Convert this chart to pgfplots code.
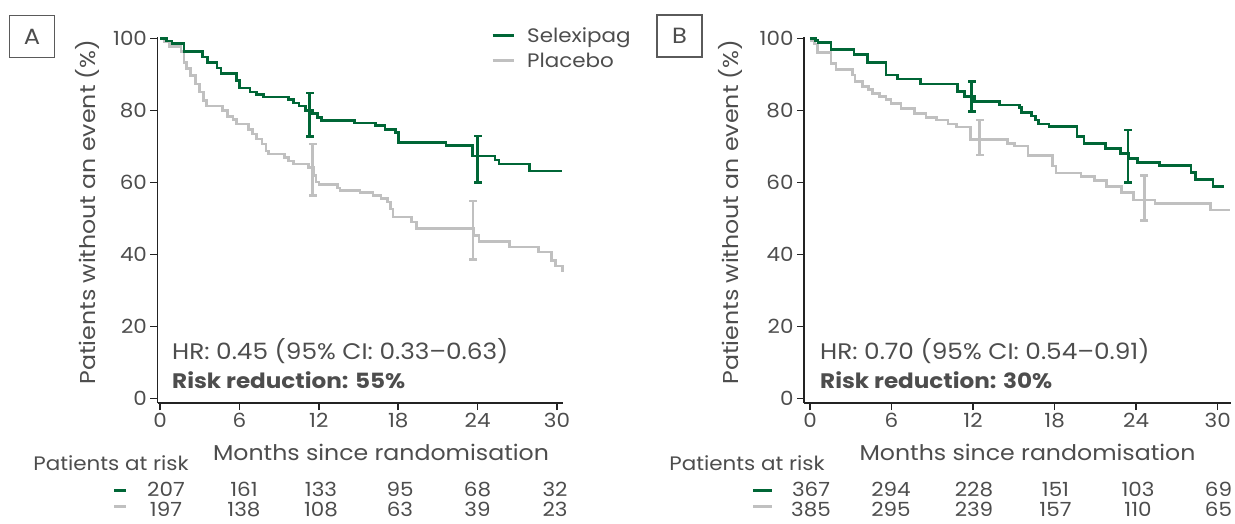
\documentclass[border=0pt]{standalone}
\usepackage{pgfplots}
\pgfplotsset{compat=1.18}
\usepackage{fontspec}
\setmainfont{Poppins}[FakeStretch=1.1, Numbers=Monospaced]
\definecolor{sgreen}{RGB}{0,102,54}
\definecolor{pgrey}{RGB}{192,192,192}
\definecolor{txt}{RGB}{77,77,77}
\definecolor{axc}{RGB}{35,35,35}
\definecolor{boxc}{RGB}{90,90,90}
\newcommand\fs{\fontsize{19.5}{22}\selectfont}
\newcommand\fl{\fontsize{21.5}{24}\selectfont}
\newcommand\fh{\fontsize{22.5}{24}\selectfont}
\newcommand\fb{\fontsize{21}{24}\selectfont}

\pgfplotstableread{
x y
0 100
0.5 99.3
0.9 98.6
1.8 96.3
3.2 94.9
3.6 93.4
4.3 91.8
4.6 90.2
5.8 88.4
6.0 86.2
6.8 85.1
7.3 84.4
7.8 83.7
9.7 83.1
10.1 82.1
10.5 81.2
11.0 80.0
11.5 79.1
11.9 78.1
12.2 77.2
14.7 76.5
16.3 75.8
17.0 74.8
17.8 73.9
18.0 71.1
21.6 70.2
23.6 67.4
25.3 66.3
25.6 65.1
27.9 63.2
30.4 63.2
}\greenA

\pgfplotstableread{
x y
0 100
0.3 99.1
0.7 97.7
1.6 96.3
1.8 93.4
2.0 91.6
2.3 89.7
2.7 87.4
3.0 85.1
3.3 82.8
3.5 81.2
4.7 80.0
5.1 78.4
5.5 77.5
5.8 76.3
6.7 74.8
7.0 73.5
7.3 72.1
7.7 70.7
8.0 68.8
8.2 67.9
9.4 67.0
9.7 66.0
10.1 65.1
11.2 64.2
11.6 62.0
11.8 60.1
12.0 59.4
13.4 58.5
13.6 57.8
15.1 57.2
16.1 56.4
16.7 55.5
17.2 54.6
17.4 52.7
17.6 50.4
19.0 49.0
19.4 47.3
23.7 45.3
24.1 43.6
26.4 42.1
28.6 40.7
29.6 38.4
29.9 36.8
30.4 35.6
30.5 35.6
}\greyA

\pgfplotstableread{
x y
0 100
0.4 99.4
0.6 98.9
1.55 97.0
3.25 95.6
4.25 93.4
5.6 89.9
6.45 88.7
8.15 87.3
10.85 85.3
11.35 83.9
12.1 82.5
13.95 81.5
15.4 80.9
15.55 79.5
16.3 78.5
16.6 77.4
16.8 76.3
17.6 75.5
19.65 72.8
20.15 70.9
21.75 69.5
22.85 68.1
23.45 66.7
24.1 65.6
25.7 64.7
28.05 62.8
28.35 60.9
29.65 58.9
30.5 58.9
}\greenB

\pgfplotstableread{
x y
0 100
0.1 99.4
0.35 98.5
0.55 96.1
1.55 93.1
1.9 91.4
3.15 89.9
3.3 88.1
3.85 86.7
4.3 85.8
4.6 84.8
5.1 83.9
5.6 83.0
5.95 82.0
6.7 80.6
7.7 79.2
8.55 78.1
9.3 77.4
10.15 76.3
10.8 75.4
11.8 71.9
14.55 70.8
15.05 70.1
16.05 67.5
17.85 64.6
18.1 62.6
19.95 61.7
20.95 60.5
21.8 58.9
22.9 57.3
23.8 55.2
25.4 54.1
29.45 52.4
30.9 52.4
}\greyB

\pgfplotsset{
  kmaxis/.style={
    anchor=south west, scale only axis, height=366pt,
    ymin=-1.2, ymax=100.4,
    axis x line=bottom, axis y line=left,
    axis line style={-, line width=1.8pt, draw=axc},
    xtick={0,6,12,18,24,30}, ytick={0,20,40,60,80,100},
    tick align=outside, major tick length=7pt,
    every tick/.style={line width=1.6pt, draw=axc},
    tick label style={font=\fs, text=txt},
    /pgf/number format/assume math mode=true,
    clip=false,
  },
  km/.style={const plot, line width=2.6pt, mark=none},
  ci/.style={#1, line width=2.9pt, mark=-, mark size=4pt,
    mark options={solid, line width=2.4pt, draw=#1}, forget plot},
}

\begin{document}
\begin{tikzpicture}
% ---------- Panel A ----------
\begin{axis}[kmaxis, at={(157.5pt,-403pt)}, width=405.5pt,
  xmin=-0.19, xmax=30.45]
\addplot[km, pgrey] table[x=x,y=y] {\greyA};
\addplot[km, sgreen] table[x=x,y=y] {\greenA};
% 95% CI bars
\addplot[ci=pgrey] coordinates {(11.55,56.4) (11.55,70.7)};
\addplot[ci=pgrey] coordinates {(23.65,38.6) (23.65,54.8)};
\addplot[ci=sgreen] coordinates {(11.3,72.8) (11.3,84.9)};
\addplot[ci=sgreen] coordinates {(24.0,60.0) (24.0,72.9)};
\end{axis}
% ---------- Panel B ----------
\begin{axis}[kmaxis, at={(804pt,-403pt)}, width=427pt,
  xmin=-0.44, xmax=30.98]
\addplot[km, pgrey] table[x=x,y=y] {\greyB};
\addplot[km, sgreen] table[x=x,y=y] {\greenB};
\addplot[ci=pgrey] coordinates {(12.5,67.7) (12.5,77.4)};
\addplot[ci=pgrey] coordinates {(24.6,49.5) (24.6,61.9)};
\addplot[ci=sgreen] coordinates {(11.9,79.7) (11.9,88.0)};
\addplot[ci=sgreen] coordinates {(23.4,60.0) (23.4,74.6)};
\end{axis}

% panel letters
\node[draw=boxc, line width=1.8pt, minimum width=45pt, minimum height=42pt, inner sep=0pt,
  font=\fontsize{22}{22}\selectfont, text=txt] at (32pt,-36.5pt) {A};
\node[draw=boxc, line width=1.8pt, minimum width=45pt, minimum height=42pt, inner sep=0pt,
  font=\fontsize{22}{22}\selectfont, text=txt] at (679.5pt,-36pt) {B};

% y labels
\node[rotate=90, anchor=base, font=\fl, text=txt, inner sep=0pt] at (95pt,-212pt) {Patients without an event (\%)};
\node[rotate=90, anchor=base, font=\fl, text=txt, inner sep=0pt] at (738pt,-212pt) {Patients without an event (\%)};

% legend
\node[anchor=base, inner sep=0pt] at (503pt,-42pt) {\textcolor{sgreen}{\rule[5pt]{21pt}{3pt}}};
\node[anchor=base, inner sep=0pt] at (503pt,-67pt) {\textcolor{pgrey}{\rule[5pt]{21pt}{3pt}}};
\node[anchor=base west, inner sep=0pt, font=\fs, text=txt] at (527pt,-42pt) {Selexipag};
\node[anchor=base west, inner sep=0pt, font=\fs, text=txt] at (527pt,-67pt) {Placebo};

% HR text
\node[anchor=base west, inner sep=0pt, font=\fh, text=txt] at (172pt,-359.5pt) {HR: 0.45 (95\% CI: 0.33–0.63)};
\node[anchor=base west, inner sep=0pt, font=\fb\bfseries, text=txt] at (172pt,-388pt) {Risk reduction: 55\%};
\node[anchor=base west, inner sep=0pt, font=\fh, text=txt] at (820pt,-359.5pt) {HR: 0.70 (95\% CI: 0.54–0.91)};
\node[anchor=base west, inner sep=0pt, font=\fb\bfseries, text=txt] at (820pt,-388pt) {Risk reduction: 30\%};

% x labels
\node[anchor=base, inner sep=0pt, font=\fl, text=txt] at (381pt,-460pt) {Months since randomisation};
\node[anchor=base, inner sep=0pt, font=\fl, text=txt] at (1027.5pt,-460pt) {Months since randomisation};

% patients at risk
\node[anchor=base, inner sep=0pt, font=\fs, text=txt] at (111pt,-470.5pt) {Patients at risk};
\node[anchor=base, inner sep=0pt, font=\fs, text=txt] at (747pt,-470.5pt) {Patients at risk};

\node[anchor=base, inner sep=0pt] at (120pt,-497pt) {\textcolor{sgreen}{\rule[5pt]{12pt}{3pt}}};
\node[anchor=base, inner sep=0pt] at (120pt,-513pt) {\textcolor{pgrey}{\rule[5pt]{12pt}{3pt}}};
\node[anchor=base, inner sep=0pt] at (762.5pt,-497pt) {\textcolor{sgreen}{\rule[5pt]{19pt}{3pt}}};
\node[anchor=base, inner sep=0pt] at (762.5pt,-513pt) {\textcolor{pgrey}{\rule[5pt]{19pt}{3pt}}};

\foreach \x/\a/\b in {166/207/197, 244/161/138, 321/133/108, 400/95/63, 477.5/68/39, 555/32/23}{
  \node[anchor=base, inner sep=0pt, font=\fs, text=txt] at (\x pt,-496.5pt) {\a};
  \node[anchor=base, inner sep=0pt, font=\fs, text=txt] at (\x pt,-516pt) {\b};
}
\foreach \x/\a/\b in {811/367/385, 891/294/295, 974/228/239, 1055.5/151/157, 1138/103/110, 1218.5/69/65}{
  \node[anchor=base, inner sep=0pt, font=\fs, text=txt] at (\x pt,-496.5pt) {\a};
  \node[anchor=base, inner sep=0pt, font=\fs, text=txt] at (\x pt,-516pt) {\b};
}

\pgfresetboundingbox
\useasboundingbox (0pt,0pt) rectangle (1235pt,-523pt);
\end{tikzpicture}
\end{document}
